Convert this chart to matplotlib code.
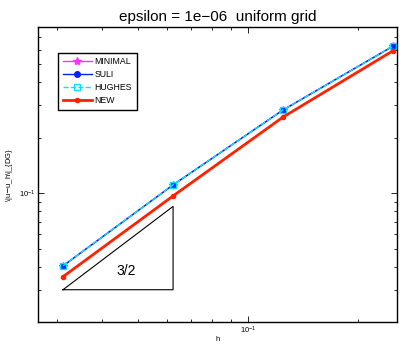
import numpy as np
import matplotlib
matplotlib.use("Agg")
import matplotlib.pyplot as plt
from matplotlib.ticker import LogLocator, NullFormatter

plt.rcParams['font.family'] = ['Liberation Sans', 'DejaVu Sans']

h = [1/32, 1/16, 1/8, 1/4]
err_minimal = [0.0404, 0.111, 0.283, 0.628]
err_suli = [0.0404, 0.111, 0.283, 0.628]
err_hughes = [0.0404, 0.111, 0.283, 0.628]
err_new = [0.0353, 0.0967, 0.259, 0.593]

# slope triangle
tri_x = [1/32, 1/16, 1/16, 1/32]
tri_y = [0.03, 0.03, 0.03 * 2**1.5, 0.03]

fig = plt.figure(figsize=(4.1, 3.45), dpi=100)
ax = fig.add_axes([0.0927, 0.0667, 0.8756, 0.855])

ax.loglog(h, err_minimal, color='#ff33ff', marker='*', ms=6, lw=1, label='MINIMAL')
ax.loglog(h, err_suli, color='#0022ff', marker='o', ms=4, lw=1, label='SULI')
ax.loglog(h, err_hughes, color='#00e5ff', marker='s', ms=5, mfc='none', mew=1,
          ls='--', lw=1, label='HUGHES')
ax.loglog(h, err_new, color='#ff2200', marker='.', ms=6, lw=2, label='NEW')
ax.plot(tri_x, tri_y, color='black', lw=0.8)
ax.text(0.0465, 0.0379, '3/2', fontsize=10, ha='center', va='center')

ax.set_xlim(0.0267, 0.256)
ax.set_ylim(0.02006, 0.796)

for axis in (ax.xaxis, ax.yaxis):
    axis.set_major_locator(LogLocator(base=10))
    axis.set_minor_locator(LogLocator(base=10, subs=np.arange(2, 10)))
    axis.set_minor_formatter(NullFormatter())
ax.tick_params(which='both', direction='in', top=True, right=True, labelsize=5.5, width=0.6, pad=2)
ax.tick_params(which='major', length=4)
ax.tick_params(which='minor', length=2)
for s in ax.spines.values():
    s.set_linewidth(1)

ax.set_xlabel('h', fontsize=5.5, labelpad=0)
ax.set_ylabel(r'\|u$-$u_h\|_{DG}', fontsize=5.5, labelpad=3)
ax.set_title('epsilon = 1e\u221206  uniform grid', fontsize=11, pad=4)

leg = ax.legend(loc='upper left', bbox_to_anchor=(0.0557, 0.913), borderaxespad=0,
                fontsize=6.3, fancybox=False, edgecolor='black', framealpha=1,
                handlelength=3.3, handletextpad=0.3, labelspacing=0.45, borderpad=0.55)
leg.get_frame().set_linewidth(1)

fig.savefig('out.png', dpi=100)
